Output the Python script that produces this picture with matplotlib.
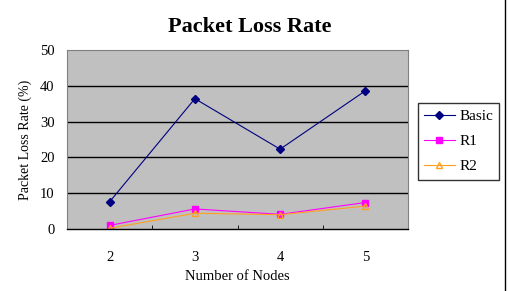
import matplotlib
matplotlib.use('Agg')
import matplotlib.pyplot as plt
from matplotlib.lines import Line2D
import numpy as np

# data
nodes = ['2', '3', '4', '5']
basic = [7.6, 36.4, 22.3, 38.6]
r1 = [1.0, 5.6, 4.1, 7.4]
r2 = [0.2, 4.4, 4.0, 6.4]

plt.rcParams['font.family'] = ['Liberation Serif', 'DejaVu Serif']

fig = plt.figure(figsize=(5.08, 2.91), dpi=100)
ax = fig.add_axes([67 / 508, 1 - 229 / 291, (408 - 67) / 508, (229 - 50) / 291])
ax.set_facecolor('#C0C0C0')

x = np.arange(len(nodes))
ax.plot(x, basic, color='#000080', marker='D', markersize=4, lw=0.8, label='Basic')
ax.plot(x, r1, color='#FF00FF', marker='s', markersize=4.5, lw=0.8, label='R1')
ax.plot(x, r2, color='#FFA020', marker='^', markersize=5, markerfacecolor='none',
        lw=0.8, label='R2')

ax.set_xlim(-0.5, len(nodes) - 0.5)
ax.set_ylim(0, 50)
ax.set_yticks(range(0, 51, 10))
ax.set_xticks(x)
ax.set_xticklabels(nodes)
ax.set_xticks(np.arange(-0.5, len(nodes), 1), minor=True)
ax.tick_params(axis='x', which='major', length=0, labelsize=10.5, pad=16)
ax.tick_params(axis='x', which='minor', length=3, direction='in', color='black')
ax.tick_params(axis='y', length=0, labelsize=10.5, pad=9)

for v in range(10, 50, 10):
    ax.axhline(v, color='black', lw=1, zorder=1)

for s in ['top', 'right', 'left']:
    ax.spines[s].set_color('#808080')
    ax.spines[s].set_linewidth(0.8)
ax.spines['bottom'].set_color('black')
ax.spines['bottom'].set_linewidth(1)

ax.set_xlabel('Number of Nodes', fontsize=10.5, labelpad=4)
ax.set_ylabel('Packet Loss Rate (%)', fontsize=10, labelpad=6)
fig.text(250 / 508, 1 - 27 / 291, 'Packet Loss Rate', ha='center', va='center',
         fontsize=16, fontweight='bold')

leg = ax.legend(loc='center left', bbox_to_anchor=(418 / 508, 1 - 141.5 / 291),
                bbox_transform=fig.transFigure, frameon=True, fancybox=False,
                edgecolor='black', fontsize=11, handlelength=2.0,
                borderpad=0.4, labelspacing=0.75, handletextpad=0.3,
                borderaxespad=0)
leg.get_frame().set_linewidth(1)

fig.add_artist(Line2D([505 / 508, 505 / 508], [0, 1], color='black', lw=1,
                      transform=fig.transFigure))

fig.savefig('out.png', dpi=100)
